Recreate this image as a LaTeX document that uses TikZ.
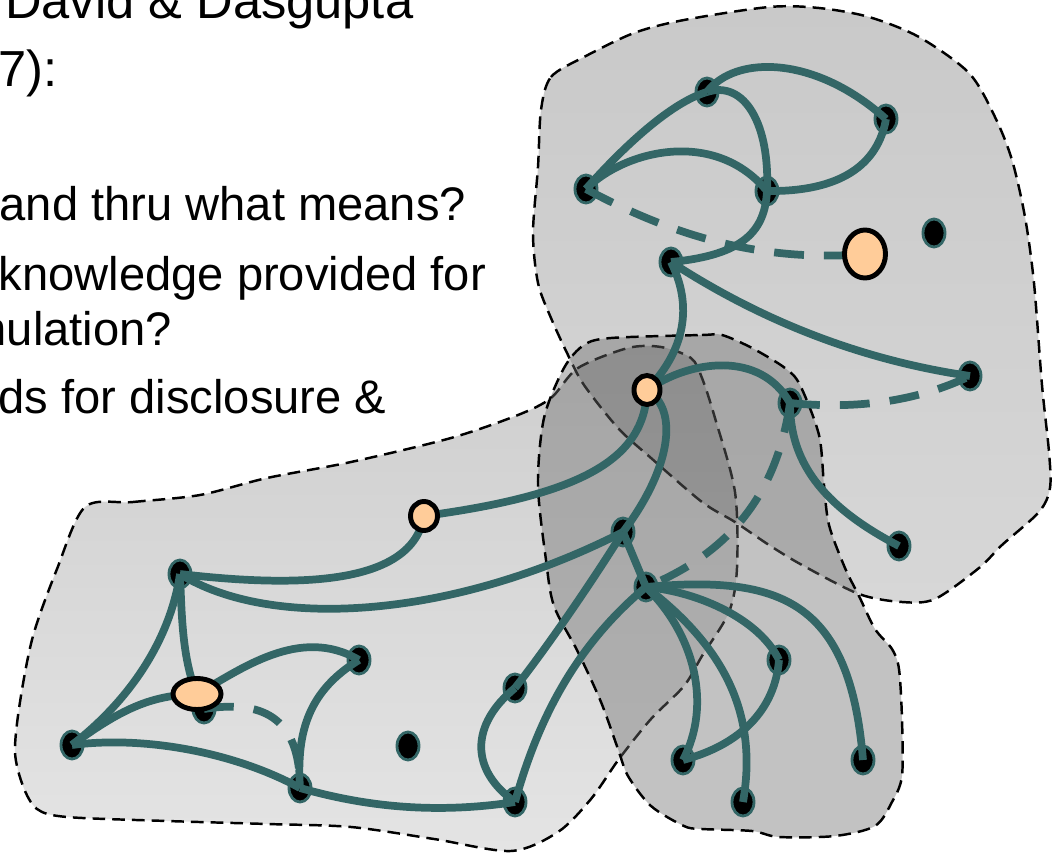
\documentclass[tikz,border=0pt]{standalone}
\usepackage{fontspec}
\setmainfont{Liberation Sans}
\usetikzlibrary{shapes.geometric}

\definecolor{edgeteal}{RGB}{51,102,102}
\definecolor{peach}{RGB}{255,204,153}
\definecolor{trtop}{RGB}{201,201,201}
\definecolor{trbot}{RGB}{215,215,215}
\definecolor{lbtop}{RGB}{206,206,206}
\definecolor{lbbot}{RGB}{228,228,228}
\definecolor{bothtop}{RGB}{166,166,166}
\definecolor{bothbot}{RGB}{192,192,192}
\definecolor{dbfill}{RGB}{110,110,110}

% outlines of the three regions
\def\trpath{plot[smooth cycle] coordinates {(541,110) (551,77) (584,57) (634,33) (684,20) (769,7) (819,8) (869,17) (919,37) (969,73) (995,117) (1012,160) (1025,217) (1034,283) (1042,385) (1049,452) (1050,488) (1039,512) (1002,545) (979,568) (935,599) (902,602) (859,594) (802,565) (769,545) (735,522) (702,502) (651,458) (618,428) (584,385) (568,355) (551,318) (538,283) (533,233) (538,167)}}
\def\lbpath{plot[smooth cycle] coordinates {(85,507) (133,502) (200,495) (267,478) (351,462) (451,438) (518,415) (551,398) (578,368) (628,348) (661,347) (691,358) (702,378) (715,418) (735,492) (737,568) (729,612) (702,656) (684,686) (651,719) (619,759) (591,799) (558,832) (511,851) (434,839) (351,827) (267,824) (167,821) (67,817) (37,809) (23,786) (15,752) (20,702) (33,636) (57,569)}}
\def\dbpath{plot[smooth cycle] coordinates {(611,338) (702,335) (722,335) (752,348) (785,368) (800,385) (819,435) (824,485) (829,525) (845,568) (859,596) (875,629) (892,649) (899,669) (902,719) (902,776) (892,802) (875,826) (835,836) (779,837) (752,831) (702,829) (684,826) (651,806) (628,776) (618,749) (601,702) (578,652) (554,606) (546,560) (538,485) (544,418) (564,368) (584,345)}}

\begin{document}
\begin{tikzpicture}[x=0.01cm,y=-0.01cm,
  dot/.style={ellipse,inner sep=0pt,minimum width=0.22cm,minimum height=0.28cm,
    fill=black,draw=edgeteal,line width=0.8pt},
  peachnode/.style={ellipse,inner sep=0pt,fill=peach,draw=black,line width=1.4pt},
  link/.style={draw=edgeteal,line width=2.2pt},
  dlink/.style={link,dash pattern=on 8.5pt off 5.7pt},
  rim/.style={draw=black,line width=0.7pt,dash pattern=on 3.6pt off 2pt},
  titletext/.style={inner sep=0pt,font=\fontsize{14.4}{17}\selectfont},
  bodytext/.style={anchor=base west,inner sep=0pt,font=\fontsize{13.4}{16}\selectfont}]

\useasboundingbox (0,0) rectangle (1053,854);
\clip (0,0) rectangle (1053,854);

% regions
\shade[top color=trtop,bottom color=trbot] \trpath;
\shade[top color=lbtop,bottom color=lbbot] \lbpath;
\begin{scope}
  \clip \trpath;
  \shade[top color=bothtop,bottom color=bothbot] \lbpath;
\end{scope}
\path[rim] \trpath;
\path[rim] \lbpath;
\fill[dbfill,fill opacity=0.42] \dbpath;
\path[rim] \dbpath;

% black nodes
\node[dot] (A) at (707,92) {};
\node[dot] (B) at (886,119) {};
\node[dot] (C) at (586,189) {};
\node[dot] (D) at (767,191) {};
\node[dot] (E) at (671,262) {};
\node[dot] (G) at (934,233) {};
\node[dot] (H) at (970,376) {};
\node[dot] (J) at (790,403) {};
\node[dot] (K) at (899,546) {};
\node[dot] (L) at (623,532) {};
\node[dot] (M) at (646,587) {};
\node[dot] (N) at (779,660) {};
\node[dot] (O) at (683,760) {};
\node[dot] (P) at (743,802) {};
\node[dot] (Q) at (863,760) {};
\node[dot] (R) at (515,688) {};
\node[dot] (S) at (515,802) {};
\node[dot] (T) at (408,746) {};
\node[dot] (U) at (180,574) {};
\node[dot] (V) at (359,660) {};
\node[dot] (X) at (72,745) {};
\node[dot] (Y) at (204,709) {};
\node[dot] (Z) at (300,788) {};

% peach node positions (drawn after the links)
\coordinate (Fc) at (865,254);
\coordinate (Ic) at (647,390);
\coordinate (Wc) at (424,516);
\coordinate (Pc) at (197,694);

% links
\draw[link] (A.center) .. controls (735,55) and (815,55) .. (B.center);
\draw[link] (A.center) .. controls (672,102) and (625,145) .. (C.center);
\draw[link] (A.center) .. controls (745,80) and (770,125) .. (D.center);
\draw[link] (C.center) .. controls (625,150) and (715,128) .. (D.center);
\draw[link] (D.center) .. controls (840,192) and (878,165) .. (B.center);
\draw[link] (D.center) .. controls (765,230) and (745,255) .. (E.center);
\draw[dlink] (C.center) .. controls (680,240) and (770,262) .. (Fc);
\draw[link] (E.center) .. controls (760,320) and (860,360) .. (H.center);
\draw[link] (E.center) .. controls (690,300) and (690,345) .. (Ic);
\draw[link] (Ic) .. controls (690,360) and (760,350) .. (J.center);
\draw[dlink] (J.center) .. controls (860,410) and (920,400) .. (H.center);
\draw[link] (J.center) .. controls (790,460) and (820,505) .. (K.center);
\draw[dlink] (J.center) .. controls (780,470) and (750,545) .. (M.center);
\draw[link] (Ic) .. controls (645,460) and (580,495) .. (Wc);
\draw[link] (Ic) .. controls (680,410) and (670,470) .. (L.center);
\draw[link] (Wc) .. controls (412,585) and (300,588) .. (U.center);
\draw[link] (U.center) .. controls (270,630) and (450,620) .. (L.center);
\draw[link] (U.center) .. controls (170,640) and (130,700) .. (X.center);
\draw[link] (U.center) .. controls (182,620) and (182,670) .. (Y.center);
\draw[link] (X.center) .. controls (120,710) and (150,695) .. (Pc);
\draw[link] (X.center) .. controls (150,735) and (240,755) .. (Z.center);
\draw[link] (Z.center) .. controls (360,805) and (430,815) .. (S.center);
\draw[link] (Z.center) .. controls (296,730) and (310,690) .. (V.center);
\draw[link] (Pc) .. controls (240,670) and (300,625) .. (V.center);
\draw[dlink] (Y.center) .. controls (260,700) and (300,715) .. (Z.center);
\draw[link] (R.center) .. controls (545,650) and (590,585) .. (L.center);
\draw[link] (R.center) .. controls (470,725) and (470,770) .. (S.center);
\draw[link] (S.center) .. controls (535,730) and (570,650) .. (M.center);
\draw[link] (L.center) -- (M.center);
\draw[link] (M.center) .. controls (695,635) and (712,705) .. (O.center);
\draw[link] (M.center) .. controls (715,640) and (760,705) .. (P.center);
\draw[link] (M.center) .. controls (700,592) and (760,620) .. (N.center);
\draw[link] (M.center) .. controls (780,575) and (850,600) .. (Q.center);
\draw[link] (N.center) .. controls (775,710) and (740,745) .. (O.center);

% peach nodes
\node[peachnode,minimum width=0.41cm,minimum height=0.48cm] (F) at (Fc) {};
\node[peachnode,minimum width=0.26cm,minimum height=0.29cm] (I) at (Ic) {};
\node[peachnode,minimum width=0.27cm,minimum height=0.29cm] (W) at (Wc) {};
\node[peachnode,minimum width=0.48cm,minimum height=0.31cm] (Pb) at (Pc) {};

% text
\node[titletext,anchor=base east] (t1) at (414,18) {David \& Dasgupta};
\node[titletext,anchor=base east] (t2) at (58,86) {7):};
\node[bodytext] (b1) at (-1,220) {and thru what means?};
\node[bodytext] (b2) at (-2,290) {knowledge provided for};
\node[bodytext] (b3) at (-33,345) {mulation?};
\node[bodytext] (b4) at (-2,413) {ds for disclosure \&};
\end{tikzpicture}
\end{document}
